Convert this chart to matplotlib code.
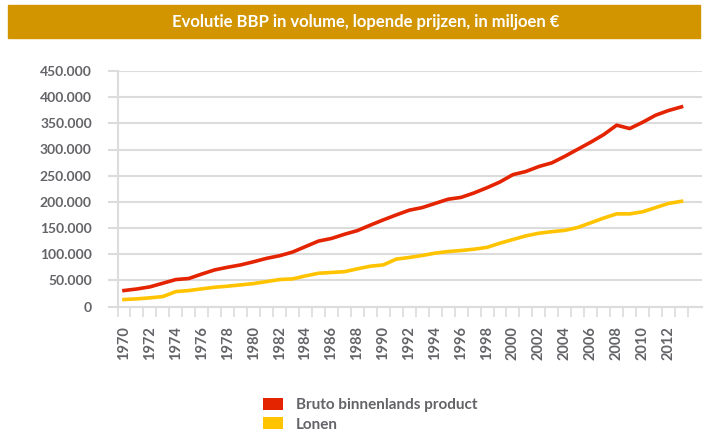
import matplotlib
matplotlib.use('Agg')
import matplotlib.pyplot as plt
from matplotlib.patches import Patch, Rectangle
from matplotlib.ticker import FuncFormatter, FixedLocator
import numpy as np

years = list(range(1970, 2014))
bbp = [30500, 33500, 37500, 44500, 51500, 53500, 62000, 70000, 75000, 79500,
       85500, 92000, 97000, 104000, 114500, 125000, 130000, 138000, 145000, 155500,
       165500, 175000, 184000, 189000, 197000, 205000, 208500, 217000, 227000, 238000,
       252000, 258000, 267500, 274500, 287000, 300500, 314000, 328500, 346500, 340000,
       352000, 365500, 374500, 381500]
lonen = [13300, 14600, 16500, 19000, 28500, 30500, 33700, 36800, 38800, 41300,
         43800, 47600, 51500, 52700, 58500, 63500, 65000, 66500, 72000, 77000,
         79500, 90500, 93700, 97500, 102000, 105000, 107000, 109500, 113000, 121000,
         128000, 135000, 140000, 143000, 145500, 151000, 160000, 169000, 177000, 177000,
         181000, 189000, 197000, 201000]
series_names = ['Bruto binnenlands product', 'Lonen']
series_colors = ['#E42300', '#FFC300']
title = 'Evolutie BBP in volume, lopende prijzen, in miljoen €'

text_gray = '#636368'
grid_gray = '#dcdcdc'
plt.rcParams['font.family'] = ['Lato', 'DejaVu Sans']
plt.rcParams['font.weight'] = 'bold'

W, H = 710, 432
fig = plt.figure(figsize=(W / 100, H / 100), dpi=100)

# title bar
fig.patches.append(Rectangle((8 / W, 1 - 38 / H), 692 / W, 33 / H,
                             transform=fig.transFigure, color='#D29500', zorder=0))
fig.text(366 / W, 1 - 22 / H, title, ha='center', va='center', color='white',
         fontsize=12, fontweight='bold')

ax = fig.add_axes([117.5 / W, 1 - 306.5 / H, (702 - 117.5) / W, (306.5 - 71) / H])
x = np.arange(len(years))
ax.plot(x, bbp, color=series_colors[0], lw=2.6, solid_joinstyle='round', zorder=3)
ax.plot(x, lonen, color=series_colors[1], lw=2.6, solid_joinstyle='round', zorder=3)

ax.set_xlim(-0.5, 43.5 + (702 - 688) / 12.97)
ax.set_ylim(0, 450000)
ax.set_yticks(np.arange(0, 450001, 50000))
ax.yaxis.set_major_formatter(FuncFormatter(lambda v, p: f'{int(v):,}'.replace(',', '.')))
ax.grid(axis='y', color=grid_gray, lw=1.5)
ax.set_axisbelow(True)
ax.tick_params(axis='y', length=7.5, width=1.5, color=grid_gray, labelcolor=text_gray,
               labelsize=10, pad=11)

# band-style x axis: ticks at band edges, labels at centres for even years
ax.xaxis.set_major_locator(FixedLocator(np.arange(-0.5, len(years), 1.0)))
ax.xaxis.set_major_formatter(FuncFormatter(lambda v, p: ''))
ax.tick_params(axis='x', which='major', length=7, width=1.2, color=grid_gray)
ax.xaxis.set_minor_locator(FixedLocator([i for i, y in enumerate(years) if y % 2 == 0]))
ax.set_xticklabels([str(y) for y in years if y % 2 == 0], minor=True, rotation=90,
                   va='top', fontsize=10.5, color=text_gray)
ax.tick_params(axis='x', which='minor', length=0, pad=14)

for s in ['top', 'right']:
    ax.spines[s].set_visible(False)
ax.spines['left'].set_color(grid_gray)
ax.spines['left'].set_linewidth(1.5)
ax.spines['left'].set_bounds(0, 450000)
ax.spines['bottom'].set_color(grid_gray)
ax.spines['bottom'].set_linewidth(1.5)

handles = [Patch(facecolor=c, edgecolor='none') for c in series_colors]
fig.legend(handles, series_names, loc='upper left', bbox_to_anchor=(262.5 / W, 1 - 398 / H),
           frameon=False, fontsize=11, handlelength=1.31, handleheight=0.83,
           handletextpad=0.85, labelspacing=0.33, borderpad=0, borderaxespad=0,
           labelcolor=text_gray)

fig.savefig('out.png', dpi=100)
